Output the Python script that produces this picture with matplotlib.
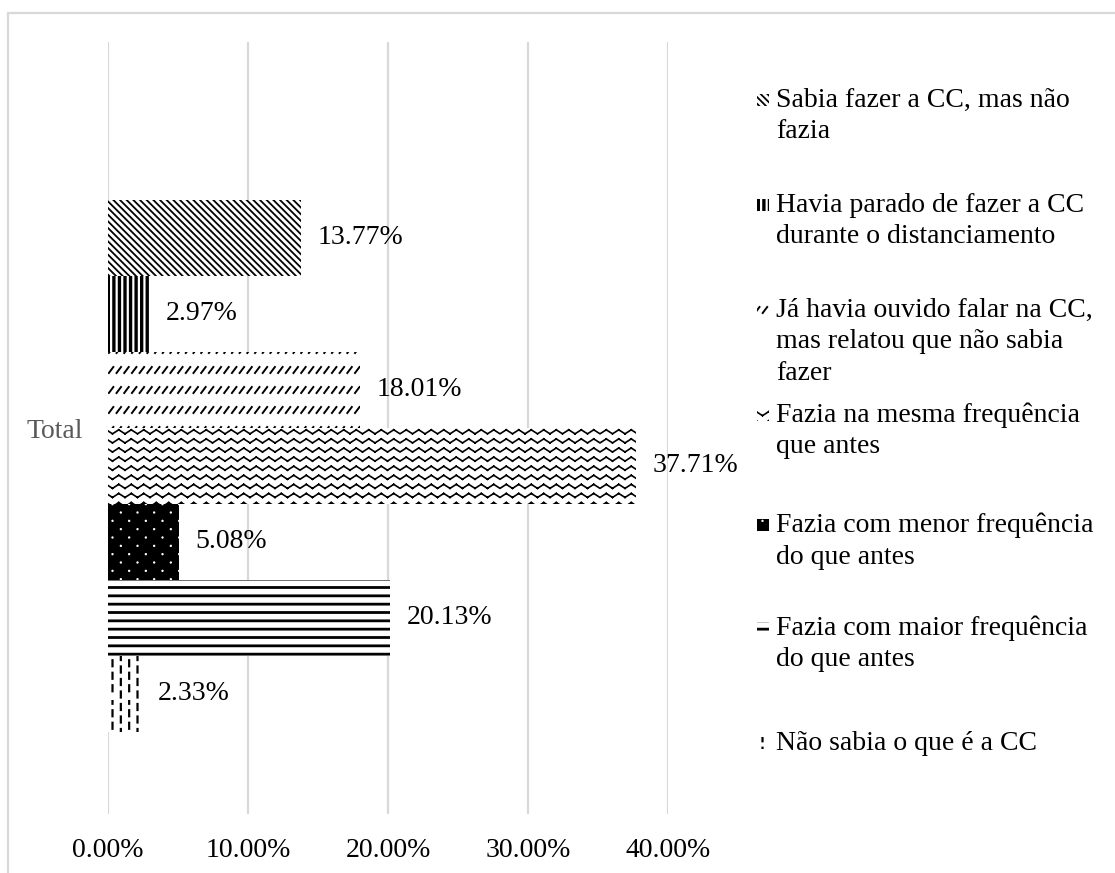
import numpy as np
import matplotlib
matplotlib.use("Agg")
import matplotlib.pyplot as plt
import matplotlib.hatch as mhatch
from matplotlib.path import Path
from matplotlib.patches import Rectangle
from matplotlib.ticker import FuncFormatter

CATEGORY = "Total"
SERIES = [
    "Sabia fazer a CC, mas não\nfazia",
    "Havia parado de fazer a CC\ndurante o distanciamento",
    "Já havia ouvido falar na CC,\nmas relatou que não sabia\nfazer",
    "Fazia na mesma frequência\nque antes",
    "Fazia com menor frequência\ndo que antes",
    "Fazia com maior frequência\ndo que antes",
    "Não sabia o que é a CC",
]
VALUES = [13.77, 2.97, 18.01, 37.71, 5.08, 20.13, 2.33]
X_TICKS = [0, 10, 20, 30, 40]

# pattern per series: (hatch, face, hatch colour, hatch line width)
STYLES = [
    ("\\" * 5, "white", "black", 1.3),
    ("|||", "white", "black", 2.4),
    ("O", "white", "black", 1.4),
    ("*", "white", "black", 1.2),
    (".", "black", "white", 0.8),
    ("--", "white", "black", 2.0),
    ("o", "white", "black", 1.6),
]

W, H = 1115, 873


# custom Excel-like fills, hooked onto hatch chars we don't use otherwise.
# every stroke is its own segment: agg also fills the hatch path
class Waves(mhatch.HatchPatternBase):
    def __init__(self, hatch, density):
        self.rows = hatch.count("*") * 11
        self.segs = 2 * 8
        self.num_vertices = self.rows * self.segs * 2

    def set_vertices_and_codes(self, vertices, codes):
        amp = 0.02
        k = 0
        for i in range(self.rows):
            y0 = (i + 0.5) / self.rows
            for j in range(self.segs):
                s = -1.0 if j % 2 == 0 else 1.0
                vertices[k] = (j / self.segs, y0 + s * amp)
                vertices[k + 1] = ((j + 1) / self.segs, y0 - s * amp)
                codes[k] = Path.MOVETO
                codes[k + 1] = Path.LINETO
                k += 2


class DashedUpDiag(mhatch.HatchPatternBase):
    def __init__(self, hatch, density):
        self.rows = hatch.count("O") * 5
        self.cols = 13
        self.num_vertices = self.rows * self.cols * 2

    def set_vertices_and_codes(self, vertices, codes):
        k = 0
        for i in range(self.rows):
            y0 = (i + 0.5) / self.rows
            for j in range(self.cols):
                x0 = (j + 0.15) / self.cols
                vertices[k] = (x0, y0 - 0.03)
                vertices[k + 1] = (x0 + 0.045, y0 + 0.03)
                codes[k] = Path.MOVETO
                codes[k + 1] = Path.LINETO
                k += 2


class DashedVertical(mhatch.HatchPatternBase):
    def __init__(self, hatch, density):
        self.cols = hatch.count("o") * 12
        self.dashes = 8
        self.num_vertices = self.cols * self.dashes * 2

    def set_vertices_and_codes(self, vertices, codes):
        k = 0
        for i in range(self.cols):
            x0 = (i + 0.5) / self.cols
            shift = 0.5 if i % 2 else 0.0
            for j in range(self.dashes):
                y0 = (j + 0.2 + shift) / self.dashes
                vertices[k] = (x0, y0)
                vertices[k + 1] = (x0, min(y0 + 0.06, 1.0))
                codes[k] = Path.MOVETO
                codes[k + 1] = Path.LINETO
                k += 2


class DiagDots(mhatch.HatchPatternBase):
    def __init__(self, hatch, density):
        self.rows = 12 if hatch.count(".") else 0
        self.cols = 6
        self.circle = Path.unit_circle().vertices * 0.006
        self.num_vertices = self.rows * self.cols * len(self.circle)

    def set_vertices_and_codes(self, vertices, codes):
        m = len(self.circle)
        k = 0
        for i in range(self.rows):
            y0 = (i + 0.5) / self.rows
            for j in range(self.cols):
                x0 = (j + 0.25 + 0.5 * (i % 2)) / self.cols
                vertices[k:k + m] = self.circle + (x0, y0)
                codes[k] = Path.MOVETO
                codes[k + 1:k + m - 1] = Path.LINETO
                codes[k + m - 1] = Path.CLOSEPOLY
                k += m


mhatch._hatch_types = [
    t for t in mhatch._hatch_types
    if t not in (mhatch.SmallCircles, mhatch.LargeCircles, mhatch.Stars,
                 mhatch.SmallFilledCircles)
] + [Waves, DashedUpDiag, DashedVertical, DiagDots]

plt.rcParams["font.family"] = ["Liberation Serif", "DejaVu Serif"]
plt.rcParams["font.size"] = 20
plt.rcParams["hatch.linewidth"] = 1.5


def style_patch(p, lw):
    if hasattr(p, "set_hatch_linewidth"):
        p.set_hatch_linewidth(lw)


fig = plt.figure(figsize=(W / 100, H / 100), dpi=100)
ax = fig.add_axes([108 / W, 1 - 814 / H, 560 / W, 772 / H])

n_slots = len(VALUES) + 1
offsets = (n_slots - 1) / 2 - 1 - np.arange(len(VALUES))

for v, y, (hatch, face, hcol, lw) in zip(VALUES, offsets, STYLES):
    bars = ax.barh(y, v, height=1.0, color=face, edgecolor=hcol, hatch=hatch, linewidth=0)
    for p in bars:
        style_patch(p, lw)
    ax.annotate(f"{v:.2f}%", xy=(v, y), xytext=(12, 0), textcoords="offset points",
                va="center", ha="left", color="black")

ax.set_xlim(0, 40)
ax.set_ylim(-772 / 76 / 2, 772 / 76 / 2)
ax.set_xticks(X_TICKS)
ax.xaxis.set_major_formatter(FuncFormatter(lambda v, _: f"{v:.2f}%"))
ax.set_yticks([0])
ax.set_yticklabels([CATEGORY], color="#595959")
ax.tick_params(axis="both", length=0)
ax.tick_params(axis="x", pad=17)
ax.tick_params(axis="y", pad=18)
ax.grid(axis="x", color="#d9d9d9", linewidth=1.6)
ax.set_axisbelow(True)
for s in ax.spines.values():
    s.set_visible(False)

# legend, drawn by hand to get Excel's layout
LEGEND_FIRST_LINE = [100, 205, 310, 415, 525, 628, 743]
LINE_STEP = 32
for label, y, (hatch, face, hcol, lw) in zip(SERIES, LEGEND_FIRST_LINE, STYLES):
    r = Rectangle((757 / W, 1 - (y + 6) / H), 12 / W, 12 / H,
                  transform=fig.transFigure, facecolor=face,
                  edgecolor=hcol, hatch=hatch, linewidth=0)
    style_patch(r, lw)
    fig.add_artist(r)
    for i, line in enumerate(label.split("\n")):
        fig.text(776 / W, 1 - (y + i * LINE_STEP) / H, line, va="center", ha="left")

# light outer frame of the chart area
fig.add_artist(Rectangle((8 / W, -0.1), 2, 1 - 13 / H + 0.1, transform=fig.transFigure,
                         fill=False, edgecolor="#d9d9d9", linewidth=1.6))

fig.savefig("out.png", dpi=100)
